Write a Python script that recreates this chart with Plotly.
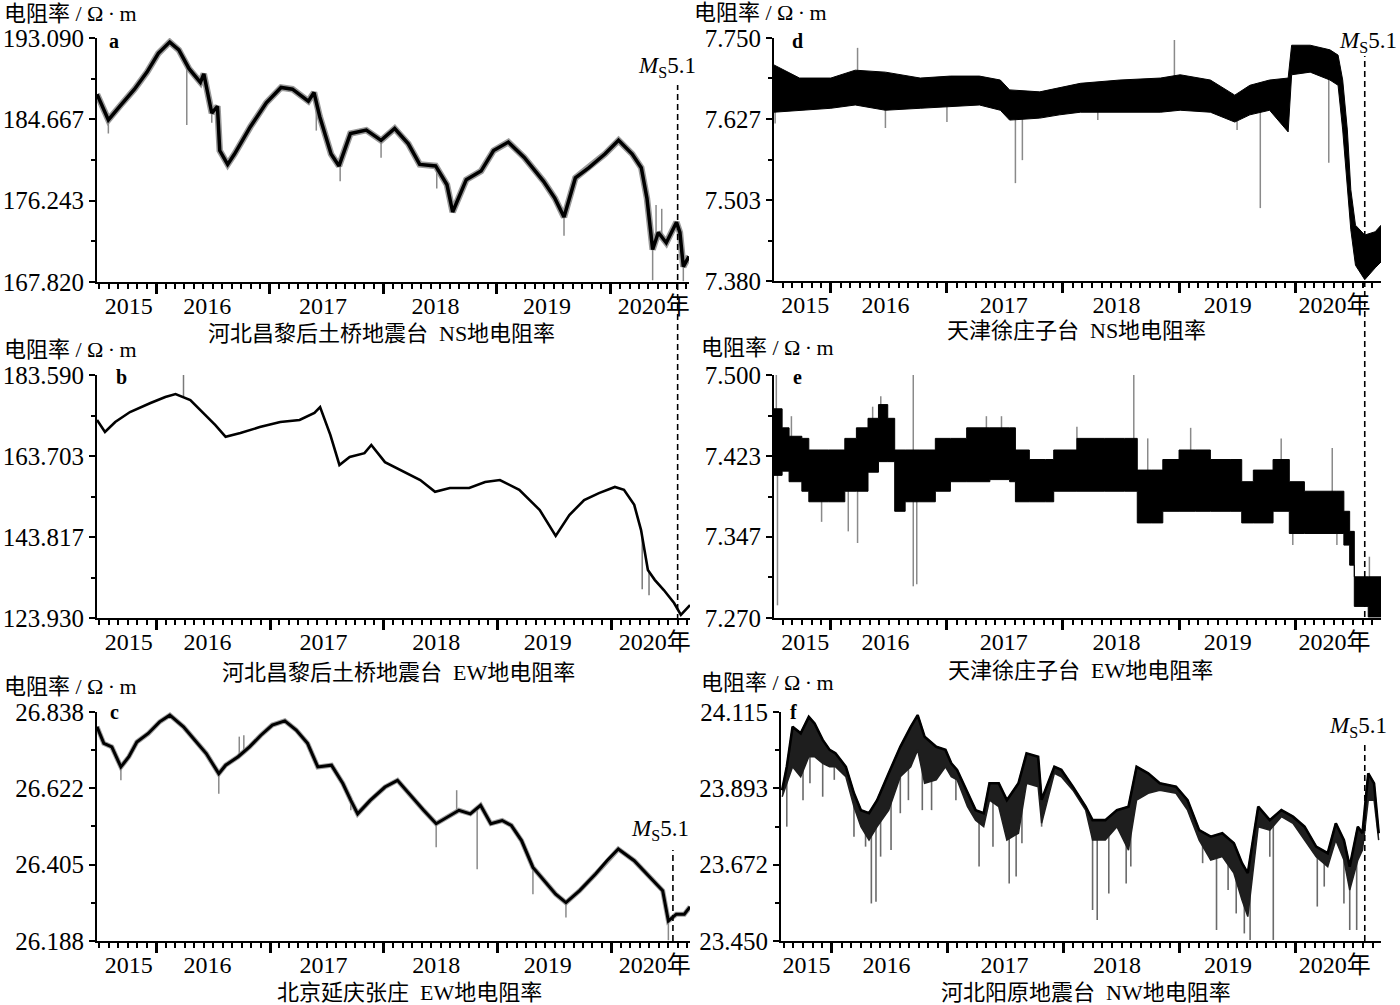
import numpy as np
import plotly.graph_objects as go

W, H = 1400, 1005

# ---------------- data: time in decimal years, resistivity in Ω·m ----------------
# a  河北昌黎后土桥地震台 NS
a_t = [2015.48, 2015.58, 2015.68, 2015.81, 2015.92, 2016.02, 2016.12, 2016.20, 2016.29, 2016.39,
       2016.42, 2016.49, 2016.54, 2016.56, 2016.63, 2016.69, 2016.83, 2016.97, 2017.10, 2017.20,
       2017.34, 2017.39, 2017.44, 2017.54, 2017.61, 2017.71, 2017.85, 2017.98, 2018.10, 2018.22,
       2018.32, 2018.46, 2018.56, 2018.61, 2018.73, 2018.86, 2018.97, 2019.10, 2019.24, 2019.41,
       2019.51, 2019.59, 2019.69, 2019.81, 2019.95, 2020.07, 2020.19, 2020.27, 2020.32, 2020.37,
       2020.42, 2020.49, 2020.58, 2020.61, 2020.64, 2020.69]
a_v = [187.26, 184.61, 186.02, 187.79, 189.56, 191.50, 192.67, 191.85, 189.91, 188.50,
       189.38, 185.32, 186.02, 181.43, 180.00, 181.07, 183.90, 186.38, 187.97, 187.79,
       186.55, 187.44, 184.96, 181.07, 179.84, 183.19, 183.55, 182.49, 183.72, 182.13,
       180.00, 179.84, 177.89, 175.07, 178.42, 179.31, 181.43, 182.31, 180.72, 178.25,
       176.48, 174.54, 178.60, 179.66, 181.07, 182.49, 181.07, 179.66, 176.48, 171.18,
       172.95, 171.89, 174.00, 172.95, 169.41, 170.47]
a_spike_t = [2015.58, 2016.27, 2016.49, 2017.41, 2017.62, 2017.98, 2018.47, 2019.59, 2020.37, 2020.40, 2020.45, 2020.64]
a_spike_v = [183.20, 184.08, 184.30, 183.50, 178.25, 180.70, 177.50, 172.60, 168.00, 175.80, 175.40, 167.90]

# b  河北昌黎后土桥地震台 EW
b_t = [2015.48, 2015.55, 2015.64, 2015.77, 2015.95, 2016.08, 2016.17, 2016.30, 2016.43, 2016.52,
       2016.61, 2016.74, 2016.91, 2017.09, 2017.26, 2017.39, 2017.44, 2017.53, 2017.61, 2017.70,
       2017.83, 2017.89, 2018.01, 2018.14, 2018.32, 2018.45, 2018.58, 2018.75, 2018.89, 2019.02,
       2019.19, 2019.37, 2019.51, 2019.63, 2019.76, 2019.89, 2020.03, 2020.11, 2020.20, 2020.26,
       2020.32, 2020.38, 2020.46, 2020.55, 2020.61, 2020.69]
b_v = [172.54, 169.60, 172.05, 174.50, 176.70, 178.20, 178.90, 177.45, 173.80, 171.30,
       168.40, 169.35, 170.80, 172.05, 172.54, 174.30, 175.70, 168.90, 161.50, 163.45,
       164.40, 166.40, 162.20, 160.30, 157.80, 154.90, 155.85, 155.85, 157.30, 157.80,
       155.40, 150.45, 144.10, 149.20, 152.90, 154.60, 156.10, 155.40, 151.70, 145.50,
       135.70, 133.30, 130.80, 127.60, 124.70, 127.10]
b_spike_t = [2016.24, 2020.27, 2020.33]
b_spike_v = [183.59, 131.00, 129.50]

# c  北京延庆张庄 EW
c_t = [2015.48, 2015.54, 2015.61, 2015.69, 2015.76, 2015.83, 2015.93, 2016.03, 2016.12, 2016.24,
       2016.34, 2016.44, 2016.55, 2016.61, 2016.72, 2016.82, 2016.92, 2017.02, 2017.13, 2017.23,
       2017.33, 2017.42, 2017.54, 2017.64, 2017.71, 2017.77, 2017.88, 2018.01, 2018.12, 2018.22,
       2018.35, 2018.46, 2018.56, 2018.66, 2018.76, 2018.85, 2018.94, 2019.04, 2019.12, 2019.21,
       2019.31, 2019.41, 2019.51, 2019.60, 2019.72, 2019.86, 2019.96, 2020.06, 2020.20, 2020.34,
       2020.45, 2020.50, 2020.57, 2020.64, 2020.69]
c_v = [26.796, 26.749, 26.739, 26.682, 26.711, 26.753, 26.777, 26.810, 26.829, 26.796,
       26.758, 26.720, 26.663, 26.687, 26.711, 26.739, 26.772, 26.801, 26.813, 26.787,
       26.749, 26.682, 26.687, 26.635, 26.587, 26.549, 26.587, 26.625, 26.644, 26.606,
       26.559, 26.521, 26.540, 26.559, 26.549, 26.573, 26.521, 26.530, 26.516, 26.473,
       26.397, 26.359, 26.321, 26.297, 26.331, 26.378, 26.416, 26.449, 26.416, 26.368,
       26.331, 26.245, 26.264, 26.264, 26.285]
c_spike_t = [2015.69, 2016.55, 2016.73, 2016.77, 2017.71, 2018.46, 2018.64, 2018.82, 2019.31, 2019.60, 2020.50]
c_spike_v = [26.644, 26.606, 26.768, 26.772, 26.559, 26.454, 26.616, 26.392, 26.321, 26.255, 26.190]

# d  天津徐庄子台 NS (upper / lower envelope of the dense record)
d_t = [2015.51, 2015.73, 2016.00, 2016.21, 2016.47, 2016.77, 2017.03, 2017.28, 2017.46, 2017.54,
       2017.80, 2017.97, 2018.15, 2018.49, 2018.84, 2019.01, 2019.27, 2019.48, 2019.61, 2019.78,
       2019.94, 2019.97, 2020.13, 2020.30, 2020.37, 2020.41, 2020.45, 2020.48, 2020.52, 2020.60,
       2020.69, 2020.74]
d_hi = [7.709, 7.689, 7.689, 7.701, 7.698, 7.689, 7.692, 7.692, 7.686, 7.671,
        7.668, 7.674, 7.681, 7.686, 7.689, 7.694, 7.686, 7.663, 7.678, 7.686,
        7.689, 7.739, 7.739, 7.732, 7.724, 7.686, 7.610, 7.519, 7.465, 7.450,
        7.455, 7.465]
d_lo = [7.637, 7.640, 7.643, 7.648, 7.640, 7.643, 7.646, 7.648, 7.640, 7.625,
        7.628, 7.633, 7.637, 7.637, 7.637, 7.640, 7.637, 7.622, 7.633, 7.640,
        7.607, 7.694, 7.698, 7.686, 7.678, 7.610, 7.519, 7.458, 7.404, 7.382,
        7.400, 7.409]
d_spike_t = [2015.52, 2016.23, 2016.47, 2017.00, 2017.59, 2017.65, 2018.30, 2018.96, 2019.50, 2019.70, 2020.29]
d_spike_v = [7.620, 7.735, 7.613, 7.622, 7.529, 7.564, 7.625, 7.747, 7.610, 7.491, 7.560]

# e  天津徐庄子台 EW
e_t = [2015.51, 2015.58, 2015.64, 2015.75, 2015.81, 2015.98, 2016.12, 2016.22, 2016.32, 2016.41,
       2016.49, 2016.55, 2016.64, 2016.76, 2016.90, 2017.03, 2017.17, 2017.37, 2017.54, 2017.59,
       2017.71, 2017.85, 2017.92, 2018.12, 2018.36, 2018.53, 2018.64, 2018.76, 2018.86, 2019.00,
       2019.14, 2019.27, 2019.44, 2019.54, 2019.64, 2019.81, 2019.95, 2020.08, 2020.36, 2020.42,
       2020.47, 2020.51, 2020.63, 2020.74]
e_hi = [7.468, 7.450, 7.442, 7.440, 7.429, 7.429, 7.440, 7.450, 7.459, 7.472,
        7.459, 7.429, 7.429, 7.429, 7.440, 7.440, 7.450, 7.450, 7.450, 7.429,
        7.420, 7.420, 7.429, 7.440, 7.440, 7.440, 7.410, 7.410, 7.420, 7.429,
        7.429, 7.420, 7.420, 7.399, 7.410, 7.420, 7.399, 7.390, 7.390, 7.371,
        7.352, 7.309, 7.309, 7.309]
e_lo = [7.405, 7.409, 7.399, 7.390, 7.380, 7.380, 7.390, 7.390, 7.408, 7.418,
        7.418, 7.371, 7.380, 7.380, 7.390, 7.399, 7.399, 7.401, 7.399, 7.380,
        7.380, 7.380, 7.390, 7.390, 7.390, 7.390, 7.360, 7.360, 7.371, 7.371,
        7.371, 7.371, 7.371, 7.360, 7.360, 7.371, 7.350, 7.350, 7.350, 7.339,
        7.320, 7.281, 7.271, 7.281]
e_spike_t = [2015.53, 2015.54, 2015.66, 2015.92, 2016.15, 2016.23, 2016.36, 2016.43, 2016.71, 2016.71,
             2016.74, 2017.34, 2017.47, 2018.12, 2018.61, 2018.73, 2019.10, 2019.88, 2019.98, 2020.32,
             2020.36, 2020.64]
e_spike_v = [7.500, 7.282, 7.461, 7.361, 7.352, 7.341, 7.470, 7.480, 7.500, 7.300,
             7.302, 7.461, 7.461, 7.451, 7.500, 7.440, 7.450, 7.440, 7.339, 7.431,
             7.339, 7.328]

# f  河北阳原地震台 NW (upper line and lower edge of the dense dark part)
f_t = [2015.57, 2015.61, 2015.66, 2015.73, 2015.80, 2015.85, 2015.92, 2015.98, 2016.03, 2016.12,
       2016.19, 2016.25, 2016.32, 2016.39, 2016.49, 2016.59, 2016.68, 2016.74, 2016.80, 2016.90,
       2016.98, 2017.03, 2017.08, 2017.17, 2017.24, 2017.31, 2017.36, 2017.44, 2017.51, 2017.61,
       2017.68, 2017.78, 2017.81, 2017.92, 2017.98, 2018.08, 2018.19, 2018.25, 2018.36, 2018.46,
       2018.56, 2018.63, 2018.73, 2018.83, 2018.97, 2019.07, 2019.17, 2019.27, 2019.37, 2019.47,
       2019.54, 2019.59, 2019.68, 2019.78, 2019.88, 2019.98, 2020.08, 2020.18, 2020.28, 2020.35,
       2020.42, 2020.47, 2020.54, 2020.58, 2020.63, 2020.68, 2020.72]
f_v = [23.888, 23.956, 24.072, 24.053, 24.101, 24.082, 24.034, 24.005, 23.995, 23.956,
       23.879, 23.830, 23.821, 23.859, 23.937, 24.014, 24.072, 24.106, 24.043, 24.014,
       24.005, 23.966, 23.947, 23.879, 23.830, 23.821, 23.908, 23.908, 23.859, 23.908,
       23.995, 23.985, 23.860, 23.956, 23.947, 23.898, 23.840, 23.801, 23.801, 23.830,
       23.840, 23.956, 23.937, 23.908, 23.898, 23.859, 23.772, 23.753, 23.763, 23.734,
       23.676, 23.647, 23.840, 23.801, 23.830, 23.811, 23.782, 23.724, 23.705, 23.792,
       23.743, 23.666, 23.782, 23.763, 23.937, 23.908, 23.763]
f_lo = [23.869, 23.908, 23.956, 23.927, 23.985, 23.985, 23.966, 23.956, 23.956, 23.927,
        23.840, 23.782, 23.743, 23.782, 23.830, 23.927, 23.956, 24.005, 23.908, 23.918,
        23.956, 23.927, 23.918, 23.840, 23.801, 23.782, 23.859, 23.840, 23.743, 23.763,
        23.908, 23.898, 23.792, 23.937, 23.927, 23.888, 23.830, 23.743, 23.743, 23.782,
        23.714, 23.859, 23.879, 23.888, 23.879, 23.830, 23.743, 23.685, 23.695, 23.647,
        23.569, 23.521, 23.782, 23.772, 23.811, 23.792, 23.743, 23.695, 23.666, 23.743,
        23.685, 23.598, 23.685, 23.714, 23.859, 23.859, 23.743]
f_spike_t = [2015.61, 2015.75, 2015.81, 2015.92, 2016.02, 2016.19, 2016.29, 2016.34, 2016.38, 2016.42,
             2016.51, 2016.59, 2016.66, 2016.78, 2016.86, 2017.07, 2017.27, 2017.39, 2017.53, 2017.59,
             2017.64, 2017.81, 2018.25, 2018.29, 2018.39, 2018.54, 2018.58, 2019.20, 2019.32, 2019.42,
             2019.49, 2019.56, 2019.61, 2019.78, 2019.81, 2020.19, 2020.25, 2020.42, 2020.47, 2020.53,
             2020.71]
f_spike_v = [23.782, 23.859, 23.908, 23.869, 23.918, 23.753, 23.724, 23.559, 23.564, 23.695,
             23.714, 23.821, 23.859, 23.830, 23.830, 23.859, 23.666, 23.724, 23.617, 23.637,
             23.734, 23.782, 23.540, 23.511, 23.588, 23.617, 23.666, 23.676, 23.482, 23.598,
             23.530, 23.472, 23.453, 23.695, 23.453, 23.550, 23.608, 23.559, 23.482, 23.482,
             23.792]

# axis ticks
a_yticks = [167.820, 176.243, 184.667, 193.090]
b_yticks = [123.930, 143.817, 163.703, 183.590]
c_yticks = [26.188, 26.405, 26.622, 26.838]
d_yticks = [7.380, 7.503, 7.627, 7.750]
e_yticks = [7.270, 7.347, 7.423, 7.500]
f_yticks = [23.450, 23.672, 23.893, 24.115]

year_ticks = [2016, 2017, 2018, 2019, 2020]
year_labels = ['2015', '2016', '2017', '2018', '2019', '2020年']
left_label_pos = [2015.76, 2016.45, 2017.47, 2018.46, 2019.44, 2020.38]
right_label_pos = [2015.78, 2016.47, 2017.49, 2018.46, 2019.42, 2020.34]

quake_mark_t = {'ab': 2020.59, 'c': 2020.54, 'de': 2020.60, 'f': 2020.60}

titles = ['河北昌黎后土桥地震台\u00a0\u00a0NS地电阻率', '河北昌黎后土桥地震台\u00a0\u00a0EW地电阻率',
          '北京延庆张庄\u00a0\u00a0EW地电阻率', '天津徐庄子台\u00a0\u00a0NS地电阻率',
          '天津徐庄子台\u00a0\u00a0EW地电阻率', '河北阳原地震台\u00a0\u00a0NW地电阻率']
letters = ['a', 'b', 'c', 'd', 'e', 'f']
unit_text = '电阻率 / Ω\u2009·\u2009m'

for arr1, arr2 in [(a_t, a_v), (b_t, b_v), (c_t, c_v), (d_t, d_hi), (d_t, d_lo), (e_t, e_hi),
                   (e_t, e_lo), (f_t, f_v), (f_t, f_lo), (a_spike_t, a_spike_v), (b_spike_t, b_spike_v),
                   (c_spike_t, c_spike_v), (d_spike_t, d_spike_v), (e_spike_t, e_spike_v),
                   (f_spike_t, f_spike_v)]:
    assert len(arr1) == len(arr2), (len(arr1), len(arr2))

# ---------------- layout (pixel boxes) ----------------
SERIF = 'Liberation Serif, Noto Sans CJK SC'
panels = [
    dict(box=(97, 689, 38, 282), xr=(2015.48, 2020.69), yt=a_yticks, lab=left_label_pos,
         title_xy=(381, 333), unit_xy=(2, 14), letter_xy=(114, 41)),
    dict(box=(97, 690, 375, 618), xr=(2015.48, 2020.69), yt=b_yticks, lab=left_label_pos,
         title_xy=(399, 672), unit_xy=(2, 349), letter_xy=(121, 377)),
    dict(box=(97, 690, 712, 941), xr=(2015.48, 2020.69), yt=c_yticks, lab=left_label_pos,
         title_xy=(409, 992), unit_xy=(2, 686), letter_xy=(114, 712)),
    dict(box=(774, 1381, 38, 281), xr=(2015.51, 2020.74), yt=d_yticks, lab=right_label_pos,
         title_xy=(1076, 330), unit_xy=(692, 12), letter_xy=(797, 41)),
    dict(box=(774, 1381, 375, 618), xr=(2015.51, 2020.74), yt=e_yticks, lab=right_label_pos,
         title_xy=(1080, 670), unit_xy=(699, 347), letter_xy=(797, 377)),
    dict(box=(781, 1381, 712, 941), xr=(2015.56, 2020.74), yt=f_yticks, lab=right_label_pos,
         title_xy=(1086, 992), unit_xy=(699, 682), letter_xy=(793, 712)),
]


def px(x):
    return x / W


def py(y):
    return 1 - y / H


def ax_names(i):
    return ('xaxis' if i == 1 else f'xaxis{i}', 'yaxis' if i == 1 else f'yaxis{i}',
            'x' if i == 1 else f'x{i}', 'y' if i == 1 else f'y{i}')


fig = go.Figure()


def add_line(i, t, v, color, width):
    _, _, xr, yr = ax_names(i)
    fig.add_trace(go.Scatter(x=t, y=v, mode='lines', line=dict(color=color, width=width),
                             xaxis=xr, yaxis=yr, showlegend=False, hoverinfo='skip'))


def add_spikes(i, st, sv, bt, bv, color, width):
    _, _, xr, yr = ax_names(i)
    xs, ys = [], []
    for t, v in zip(st, sv):
        b = float(np.interp(t, bt, bv))
        xs += [t, t, None]
        ys += [b, v, None]
    fig.add_trace(go.Scatter(x=xs, y=ys, mode='lines', line=dict(color=color, width=width),
                             xaxis=xr, yaxis=yr, showlegend=False, hoverinfo='skip'))


def add_band(i, t, hi, lo, shape, color='black', edge=1):
    _, _, xr, yr = ax_names(i)
    fig.add_trace(go.Scatter(x=t, y=lo, mode='lines', line=dict(color=color, width=edge, shape=shape),
                             xaxis=xr, yaxis=yr, showlegend=False, hoverinfo='skip'))
    fig.add_trace(go.Scatter(x=t, y=hi, mode='lines', line=dict(color=color, width=edge, shape=shape),
                             fill='tonexty', fillcolor=color,
                             xaxis=xr, yaxis=yr, showlegend=False, hoverinfo='skip'))


# panel a
add_line(1, a_t, a_v, '#9a9a9a', 6.5)
add_spikes(1, a_spike_t, a_spike_v, a_t, a_v, '#8a8a8a', 1.5)
add_line(1, a_t, a_v, 'black', 3.5)
# panel b
add_spikes(2, b_spike_t, b_spike_v, b_t, b_v, '#7a7a7a', 1.5)
add_line(2, b_t, b_v, 'black', 2.6)
# panel c
add_line(3, c_t, c_v, '#a0a0a0', 5)
add_spikes(3, c_spike_t, c_spike_v, c_t, c_v, '#8a8a8a', 1.5)
add_line(3, c_t, c_v, 'black', 3)
# panel d
d_mid = [(h + l) / 2 for h, l in zip(d_hi, d_lo)]
add_spikes(4, d_spike_t, d_spike_v, d_t, d_mid, '#8a8a8a', 1.5)
add_band(4, d_t, d_hi, d_lo, 'linear')
# panel e
e_mid = [(h + l) / 2 for h, l in zip(e_hi, e_lo)]
add_spikes(5, e_spike_t, e_spike_v, e_t, e_mid, '#8a8a8a', 1.5)
add_band(5, e_t, e_hi, e_lo, 'hv')
# panel f
add_spikes(6, f_spike_t, f_spike_v, f_t, f_v, '#6a6a6a', 1.6)
add_band(6, f_t, f_v, f_lo, 'linear', color='#1e1e1e', edge=1.5)
add_line(6, f_t, f_v, 'black', 2.6)

annotations = []
layout = dict(template='none', width=W, height=H, margin=dict(l=0, r=0, t=0, b=0, pad=0),
              paper_bgcolor='white', plot_bgcolor='white', showlegend=False)

for k, p in enumerate(panels):
    i = k + 1
    xname, yname, xref, yref = ax_names(i)
    x0, x1, y0, y1 = p['box']
    lo, hi = p['xr']
    months = [2015 + m / 12 for m in range(0, 6 * 12 + 1) if lo - 1e-6 <= 2015 + m / 12 <= hi + 1e-6]
    yt = p['yt']
    ymid = [(yt[j] + yt[j + 1]) / 2 for j in range(len(yt) - 1)]
    layout[xname] = dict(domain=[px(x0), px(x1)], anchor=yref, range=[lo, hi], automargin=False,
                         tickmode='array', tickvals=year_ticks, ticks='outside', ticklen=10,
                         tickwidth=2.5, tickcolor='black', showticklabels=False,
                         showline=True, linecolor='black', linewidth=2, showgrid=False, zeroline=False,
                         minor=dict(tickmode='array', tickvals=months, ticks='outside', ticklen=5,
                                    tickwidth=1.5, tickcolor='black', showgrid=False))
    layout[yname] = dict(domain=[py(y1), py(y0)], anchor=xref, range=[yt[0], yt[-1]], automargin=False,
                         tickmode='array', tickvals=yt, ticktext=[f'{v:.3f}' for v in yt],
                         ticks='outside', ticklen=6, tickwidth=2, tickcolor='black',
                         showline=True, linecolor='black', linewidth=2, showgrid=False, zeroline=False,
                         tickfont=dict(family=SERIF, size=25, color='black'),
                         minor=dict(tickmode='array', tickvals=ymid, ticks='outside', ticklen=4,
                                    tickwidth=1.5, tickcolor='black', showgrid=False))
    # overlay axis carrying the year labels centred within each year
    li = i + 6
    lname = f'xaxis{li}'
    layout[lname] = dict(domain=[px(x0), px(x1)], overlaying=xref, anchor=yref, side='bottom',
                         range=[lo, hi], automargin=False, tickmode='array', tickvals=p['lab'],
                         ticktext=year_labels, ticks='outside', ticklen=2,
                         tickcolor='rgba(0,0,0,0)', showline=False,
                         showgrid=False, zeroline=False,
                         tickfont=dict(family=SERIF, size=24, color='black'))
    fig.add_trace(go.Scatter(x=[lo, hi], y=[yt[0], yt[0]], mode='markers', marker=dict(opacity=0),
                             xaxis=f'x{li}', yaxis=yref, showlegend=False, hoverinfo='skip'))

    tx, ty = p['title_xy']
    annotations.append(dict(text=titles[k], x=px(tx), y=py(ty), xref='paper', yref='paper',
                            xanchor='center', yanchor='middle', showarrow=False,
                            font=dict(family=SERIF, size=22, color='black')))
    ux, uy = p['unit_xy']
    annotations.append(dict(text=unit_text, x=px(ux), y=py(uy), xref='paper', yref='paper',
                            xanchor='left', yanchor='middle', showarrow=False,
                            font=dict(family=SERIF, size=22, color='black')))
    lx, ly = p['letter_xy']
    annotations.append(dict(text=f'<b>{letters[k]}</b>', x=px(lx), y=py(ly), xref='paper', yref='paper',
                            xanchor='center', yanchor='middle', showarrow=False,
                            font=dict(family=SERIF, size=20, color='black')))

# earthquake markers
ms_text = '<i>M</i><sub>S</sub>5.1'
ms_labels = [(667, 67), (660, 830), (1368, 42), (1358, 727)]
for (mx, my) in ms_labels:
    annotations.append(dict(text=ms_text, x=px(mx), y=py(my), xref='paper', yref='paper',
                            xanchor='center', yanchor='middle', showarrow=False,
                            font=dict(family=SERIF, size=23, color='black')))

dash = dict(color='black', width=1.6, dash='6px,4px')
shapes = [
    dict(type='line', xref='x', yref='paper', x0=quake_mark_t['ab'], x1=quake_mark_t['ab'],
         y0=py(620), y1=py(85), line=dash),
    dict(type='line', xref='x3', yref='paper', x0=quake_mark_t['c'], x1=quake_mark_t['c'],
         y0=py(941), y1=py(850), line=dash),
    dict(type='line', xref='x4', yref='paper', x0=quake_mark_t['de'], x1=quake_mark_t['de'],
         y0=py(617), y1=py(56), line=dash),
    dict(type='line', xref='x6', yref='paper', x0=quake_mark_t['f'], x1=quake_mark_t['f'],
         y0=py(941), y1=py(742), line=dash),
]

layout['annotations'] = annotations
layout['shapes'] = shapes
fig.update_layout(**layout)
fig.write_html('out.html', config={'displayModeBar': False},
               post_script="document.body.style.margin='0px';")
